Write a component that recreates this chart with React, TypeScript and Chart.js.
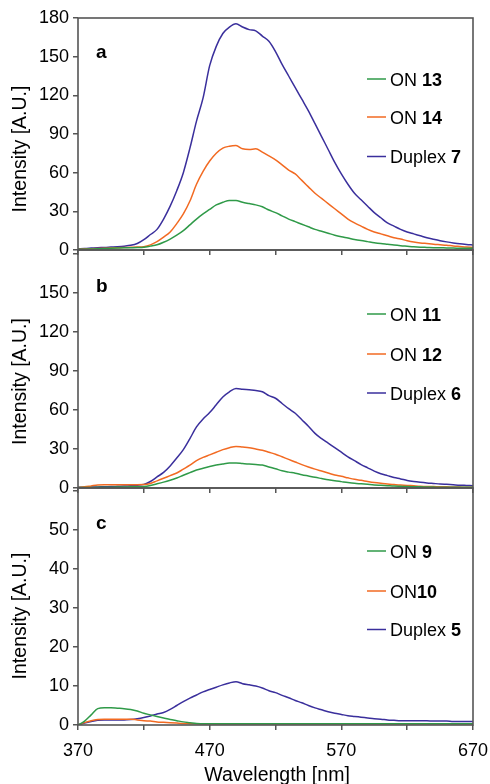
import React, { useEffect, useRef } from 'react';
import { Chart, registerables } from 'chart.js';

Chart.register(...registerables);

// ---------- DATA ----------
const wavelengths = [
  370, 375, 380, 385, 390, 395, 400, 405, 410, 415, 420, 425, 430, 435, 440, 445, 450, 455, 460, 465,
  470, 475, 480, 485, 490, 495, 500, 505, 510, 515, 520, 525, 530, 535, 540, 545, 550, 555, 560, 565,
  570, 575, 580, 585, 590, 595, 600, 605, 610, 615, 620, 625, 630, 635, 640, 645, 650, 655, 660, 665, 670,
];

// Panel a
const on13 = [
  0.5, 0.6, 0.8, 1, 1.1, 1.3, 1.5, 1.7, 1.8, 1.9, 2.1, 3, 4, 6, 8.5, 11.5, 15, 19.5, 24, 28,
  31.5, 35, 37, 38.5, 38.5, 37, 36, 35, 33.5, 31, 29, 26.5, 24, 22, 20, 18, 16, 14.5, 13, 11.5,
  10.3, 9.3, 8.2, 7.3, 6.5, 5.7, 5, 4.4, 3.8, 3.3, 2.9, 2.5, 2.2, 2, 1.8, 1.7, 1.6, 1.5, 1.4, 1.3, 1.3,
];
const on14 = [
  0.5, 0.7, 0.9, 1.1, 1.3, 1.5, 1.7, 1.9, 2.1, 2.3, 2.6, 4, 6.5, 10, 14, 20.5, 28, 38, 51, 61,
  69, 75, 79, 80.5, 81, 78.5, 78, 78.5, 76, 73, 70, 66, 62, 59, 54, 49, 44, 40, 36, 32,
  28, 24, 21, 18.5, 16, 14, 12.5, 11, 9.5, 8.5, 7.2, 6.2, 5.5, 5, 4.5, 4.1, 3.7, 3.1, 2.7, 2.3, 2,
];
const duplex7 = [
  1, 1.2, 1.5, 1.8, 2, 2.3, 2.6, 3, 3.6, 5, 8, 12, 16, 24, 34, 46, 60, 79, 100, 118,
  143, 158, 168, 173, 175.5, 173, 171, 170, 166, 162, 154, 144, 135, 126, 117, 108, 98, 88, 78, 68,
  59, 51, 44, 39, 34, 29, 25, 21, 18.5, 16, 14, 12.5, 11, 9.5, 8.3, 7.2, 6.3, 5.5, 4.8, 4.3, 3.9,
];

// Panel b
const on11 = [
  0.3, 0.3, 0.4, 0.5, 0.5, 0.6, 0.7, 0.8, 0.9, 1, 1.2, 2, 3.2, 4.5, 6, 7.7, 9.8, 11.8, 13.8, 15.2,
  16.5, 17.6, 18.5, 19.2, 19.3, 18.8, 18.4, 18, 17.6, 16.2, 14.8, 13.2, 12.2, 11.4, 10.2, 9.2, 8.2, 7.3, 6.4, 5.6,
  4.9, 4.2, 3.6, 3.2, 2.8, 2.4, 2.1, 1.8, 1.5, 1.3, 1.1, 1, 0.9, 0.8, 0.7, 0.6, 0.6, 0.5, 0.5, 0.5, 0.5,
];
const on12 = [
  0.3, 0.9, 1.6, 2.3, 2.5, 2.5, 2.5, 2.5, 2.5, 2.5, 2.6, 3.5, 5.5, 7.5, 9.5, 11.5, 14.5, 17.5, 21, 23.5,
  25.5, 27.5, 29.5, 31, 32, 31.5, 31, 30, 29, 27.5, 26, 24, 22, 20, 18, 16.2, 14.5, 13, 11.5, 10,
  9, 7.8, 6.7, 5.9, 5, 4.2, 3.6, 3.1, 2.6, 2.3, 2, 1.7, 1.4, 1.2, 1.1, 1, 0.9, 0.8, 0.7, 0.6, 0.6,
];
const duplex6 = [
  0.5, 0.6, 0.7, 0.8, 1, 1.1, 1.3, 1.5, 1.8, 2.2, 2.8, 5, 8.5, 12, 17, 23, 29.5, 38, 47, 53,
  58, 64, 70, 74, 76.5, 76, 75.5, 75, 74, 71, 69, 65, 61, 57.5, 52.5, 47.5, 42, 38, 34.5, 31,
  27.5, 24, 21, 18, 15.5, 13, 11, 9.5, 8, 7, 5.8, 5, 4.4, 3.9, 3.5, 3.1, 2.8, 2.5, 2.2, 2, 1.8,
];

// Panel c
const on9 = [
  0, 1, 2.6, 4.2, 4.4, 4.4, 4.3, 4.2, 4, 3.6, 3, 2.6, 2.2, 1.8, 1.4, 1.1, 0.8, 0.6, 0.4, 0.3,
  0.3, 0.3, 0.3, 0.3, 0.3, 0.3, 0.3, 0.3, 0.3, 0.3, 0.3, 0.3, 0.3, 0.3, 0.3, 0.3, 0.3, 0.3, 0.3, 0.3,
  0.3, 0.3, 0.3, 0.3, 0.3, 0.3, 0.3, 0.3, 0.3, 0.3, 0.3, 0.3, 0.3, 0.3, 0.3, 0.3, 0.3, 0.3, 0.3, 0.3, 0.3,
];
const on10 = [
  0, 0.6, 1.1, 1.4, 1.5, 1.5, 1.5, 1.5, 1.5, 1.3, 1.1, 1, 0.8, 0.7, 0.6, 0.5, 0.4, 0.35, 0.3, 0.3,
  0.3, 0.3, 0.3, 0.3, 0.3, 0.3, 0.3, 0.3, 0.3, 0.3, 0.3, 0.3, 0.3, 0.3, 0.3, 0.3, 0.3, 0.3, 0.3, 0.3,
  0.3, 0.3, 0.3, 0.3, 0.3, 0.3, 0.3, 0.3, 0.3, 0.3, 0.3, 0.3, 0.3, 0.3, 0.3, 0.3, 0.3, 0.3, 0.3, 0.3, 0.3,
];
const duplex5 = [
  0, 0.5, 0.9, 1.2, 1.3, 1.3, 1.3, 1.3, 1.4, 1.6, 1.9, 2.3, 2.8, 3.2, 4, 5, 6, 6.9, 7.7, 8.5,
  9.1, 9.7, 10.3, 10.8, 11.1, 10.6, 10.3, 10, 9.5, 8.8, 8.3, 7.6, 7, 6.3, 5.7, 5, 4.4, 3.9, 3.4, 3,
  2.7, 2.4, 2.2, 2, 1.8, 1.6, 1.5, 1.3, 1.2, 1.1, 1.1, 1.1, 1.1, 1.1, 1, 1, 1, 0.9, 0.9, 0.9, 0.9,
];

const xTickLabels = [370, 470, 570, 670];
const panelLetters = ['a', 'b', 'c'];
const legendA = [['ON ', '13'], ['ON ', '14'], ['Duplex ', '7']];
const legendB = [['ON ', '11'], ['ON ', '12'], ['Duplex ', '6']];
const legendC = [['ON ', '9'], ['ON', '10'], ['Duplex ', '5']];
const yTitle = 'Intensity [A.U.]';
const xTitle = 'Wavelength [nm]';

// ---------- STYLE ----------
const FONT = '"Liberation Sans", Arial, Helvetica, sans-serif';
const COLORS = ['#2f9a48', '#f26a22', '#3a2f9c'];
const AXIS = '#555555';
const W = 490;
const H = 784;
const PLOT_LEFT = 78;
const PLOT_RIGHT = 473;

type PanelCfg = {
  letter: string;
  series: number[][];
  legend: string[][];
  top: number;
  bottom: number;
  yMax: number;
  yStep: number;
  maxLabel: number;
  showX: boolean;
  legendY: number[];
  letterY: number;
  titleY: number;
};

const panels: PanelCfg[] = [
  { letter: panelLetters[0], series: [on13, on14, duplex7], legend: legendA, top: 18, bottom: 250, yMax: 180, yStep: 30, maxLabel: 180, showX: false, legendY: [79, 117, 156.5], letterY: 58, titleY: 149 },
  { letter: panelLetters[1], series: [on11, on12, duplex6], legend: legendB, top: 250, bottom: 488, yMax: 183, yStep: 30, maxLabel: 150, showX: false, legendY: [314, 354, 393], letterY: 292, titleY: 381.5 },
  { letter: panelLetters[2], series: [on9, on10, duplex5], legend: legendC, top: 488, bottom: 725, yMax: 60.8, yStep: 10, maxLabel: 50, showX: true, legendY: [551, 591, 629.5], letterY: 529, titleY: 616 },
];

function makeDecor(cfg: PanelCfg) {
  return {
    id: 'decor_' + cfg.letter,
    afterDraw(chart: any) {
      const { ctx, chartArea } = chart;
      ctx.save();
      // frame
      ctx.strokeStyle = AXIS;
      ctx.lineWidth = 1.6;
      ctx.strokeRect(chartArea.left, chartArea.top, chartArea.right - chartArea.left, chartArea.bottom - chartArea.top);
      // panel letter
      ctx.fillStyle = '#000';
      ctx.font = `bold 19px ${FONT}`;
      ctx.textBaseline = 'alphabetic';
      ctx.textAlign = 'left';
      ctx.fillText(cfg.letter, 96, cfg.letterY);
      // legend
      cfg.legend.forEach((item, i) => {
        const y = cfg.legendY[i];
        ctx.strokeStyle = COLORS[i];
        ctx.lineWidth = 1.5;
        ctx.beginPath();
        ctx.moveTo(367, y);
        ctx.lineTo(386, y);
        ctx.stroke();
        ctx.fillStyle = '#000';
        ctx.font = `18px ${FONT}`;
        ctx.fillText(item[0], 390, y + 6.5);
        const w = ctx.measureText(item[0]).width;
        ctx.font = `bold 18px ${FONT}`;
        ctx.fillText(item[1], 390 + w, y + 6.5);
      });
      // y title
      ctx.save();
      ctx.translate(25.5, cfg.titleY);
      ctx.rotate(-Math.PI / 2);
      ctx.font = `19.5px ${FONT}`;
      ctx.textAlign = 'center';
      ctx.textBaseline = 'alphabetic';
      ctx.fillStyle = '#000';
      ctx.fillText(yTitle, 0, 0);
      ctx.restore();
      // x title
      if (cfg.showX) {
        ctx.font = `19.5px ${FONT}`;
        ctx.textAlign = 'center';
        ctx.textBaseline = 'alphabetic';
        ctx.fillText(xTitle, 277, 781);
      }
      ctx.restore();
    },
  };
}

function Panel({ cfg }: { cfg: PanelCfg }) {
  const ref = useRef<HTMLCanvasElement>(null);
  useEffect(() => {
    const xHeight = cfg.showX ? H - cfg.bottom : 5;
    const chart = new Chart(ref.current as HTMLCanvasElement, {
      type: 'line',
      data: {
        datasets: cfg.series.map((s, i) => ({
          label: cfg.legend[i].join(''),
          data: wavelengths.map((w, j) => ({ x: w, y: s[j] })),
          borderColor: COLORS[i],
          backgroundColor: COLORS[i],
          borderWidth: 1.5,
          pointRadius: 0,
          fill: false,
          cubicInterpolationMode: 'monotone' as const,
        })),
      },
      options: {
        responsive: false,
        animation: false,
        devicePixelRatio: 1,
        layout: {
          padding: { left: 0, right: W - PLOT_RIGHT, top: cfg.top, bottom: H - cfg.bottom - xHeight },
        },
        plugins: { legend: { display: false }, tooltip: { enabled: false }, title: { display: false } },
        scales: {
          x: {
            type: 'linear',
            min: 370,
            max: 670,
            border: { display: false },
            grid: { display: true, drawOnChartArea: false, drawTicks: true, tickLength: 5, color: AXIS, lineWidth: 1.5 },
            ticks: {
              display: cfg.showX,
              stepSize: 50,
              maxRotation: 0,
              autoSkip: false,
              padding: 10,
              color: '#000',
              font: { family: FONT, size: 18 },
              callback: (v: any) => (xTickLabels.includes(Number(v)) ? String(v) : ''),
            },
            afterFit: (scale: any) => {
              scale.height = xHeight;
              scale.paddingLeft = 0;
              scale.paddingRight = 0;
            },
          },
          y: {
            type: 'linear',
            min: 0,
            max: cfg.yMax,
            border: { display: false },
            grid: { display: true, drawOnChartArea: false, drawTicks: true, tickLength: 5, color: AXIS, lineWidth: 1.5 },
            ticks: {
              stepSize: cfg.yStep,
              includeBounds: false,
              autoSkip: false,
              padding: 4,
              color: '#000',
              font: { family: FONT, size: 18 },
              callback: (v: any) => (Number(v) <= cfg.maxLabel ? String(v) : ''),
            },
            afterFit: (scale: any) => {
              scale.width = PLOT_LEFT;
              scale.paddingTop = 0;
              scale.paddingBottom = 0;
            },
          },
        },
      },
      plugins: [makeDecor(cfg)],
    });
    return () => chart.destroy();
  }, []);
  return (
    <canvas
      ref={ref}
      width={W}
      height={H}
      style={{ position: 'absolute', left: 0, top: 0, width: W, height: H }}
    />
  );
}

export default function App() {
  return (
    <div style={{ position: 'absolute', left: 0, top: 0, width: W, height: H, background: '#fff' }}>
      {panels.map((p) => (
        <Panel key={p.letter} cfg={p} />
      ))}
    </div>
  );
}
